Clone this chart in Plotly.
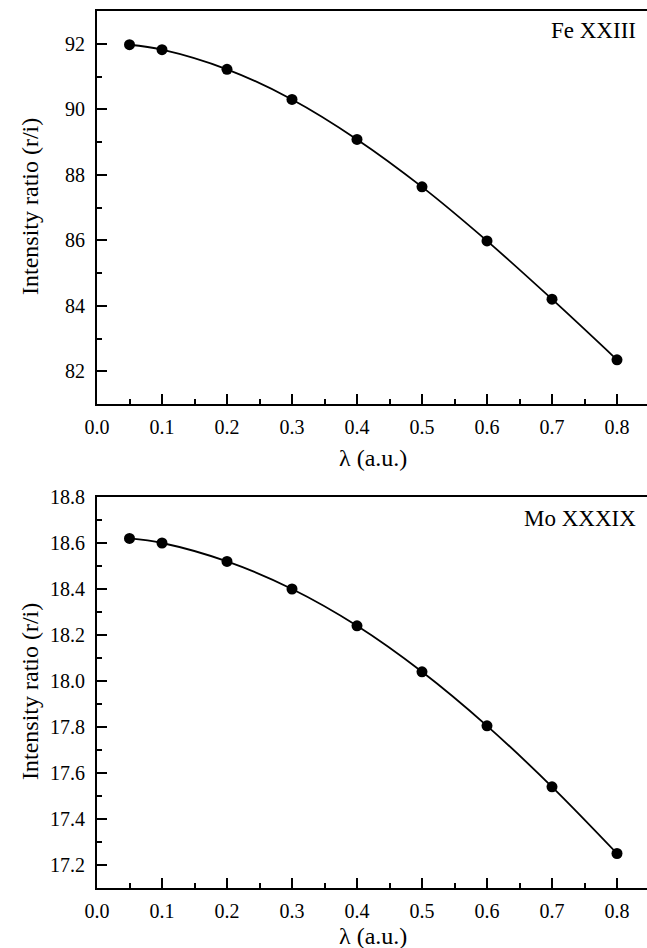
import plotly.graph_objects as go

lam = [0.05, 0.1, 0.2, 0.3, 0.4, 0.5, 0.6, 0.7, 0.8]
fe_ratio = [91.97, 91.82, 91.22, 90.30, 89.08, 87.63, 85.98, 84.20, 82.35]
mo_ratio = [18.62, 18.60, 18.52, 18.40, 18.24, 18.04, 17.805, 17.54, 17.25]

x_ticks = [0.0, 0.1, 0.2, 0.3, 0.4, 0.5, 0.6, 0.7, 0.8]
fe_ticks = [82, 84, 86, 88, 90, 92]
mo_ticks = [17.2, 17.4, 17.6, 17.8, 18.0, 18.2, 18.4, 18.6, 18.8]

W, H = 647, 948
FONT = "Liberation Serif, Times New Roman, serif"

fig = go.Figure()
line_style = dict(color="black", width=1.8, shape="spline")
marker_style = dict(color="black", size=11)
fig.add_trace(go.Scatter(x=lam, y=fe_ratio, mode="lines+markers", line=line_style,
                         marker=marker_style, xaxis="x", yaxis="y", showlegend=False))
fig.add_trace(go.Scatter(x=lam, y=mo_ratio, mode="lines+markers", line=line_style,
                         marker=marker_style, xaxis="x2", yaxis="y2", showlegend=False))

x0 = 97 / W
xdom = [x0, 1.0]
xrange = [0, (W - 97) / 650.0]

def yfrac(px):
    return (H - px) / H

TICKFONT = dict(family=FONT, size=20, color="black")
common_x = dict(
    domain=xdom, range=xrange, tickmode="array", tickvals=x_ticks,
    ticktext=[f"{v:.1f}" for v in x_ticks], ticks="inside", ticklen=10, tickwidth=2,
    tickcolor="black", showline=True, linecolor="black", linewidth=2, mirror=True,
    showgrid=False, zeroline=False, tickfont=TICKFONT,
    minor=dict(dtick=0.05, ticks="inside", ticklen=5, tickwidth=2, tickcolor="black", showgrid=False),
    automargin=False, ticklabelstandoff=4,
)
common_y = dict(
    ticks="inside", ticklen=10, tickwidth=2, tickcolor="black", showline=True,
    linecolor="black", linewidth=2, mirror=False, showgrid=False, zeroline=False,
    tickfont=TICKFONT, automargin=False, ticklabelstandoff=6,
)

fig.update_layout(
    width=W, height=H, margin=dict(l=0, r=0, t=0, b=0),
    paper_bgcolor="white", plot_bgcolor="white",
    xaxis=dict(**common_x, anchor="y"),
    xaxis2=dict(**common_x, anchor="y2"),
    yaxis=dict(**common_y, anchor="x", domain=[yfrac(404), yfrac(11)], range=[81, 93],
               tickmode="array", tickvals=fe_ticks, ticktext=[str(v) for v in fe_ticks],
               minor=dict(dtick=1, ticks="inside", ticklen=5, tickwidth=2, tickcolor="black", showgrid=False)),
    yaxis2=dict(**common_y, anchor="x2", domain=[yfrac(888), yfrac(497)], range=[17.1, 18.8],
                tickmode="array", tickvals=mo_ticks, ticktext=[f"{v:.1f}" for v in mo_ticks],
                minor=dict(dtick=0.1, ticks="inside", ticklen=5, tickwidth=2, tickcolor="black", showgrid=False)),
)

ann_font = dict(family=FONT, size=23, color="black")
title_font = dict(family=FONT, size=24, color="black")
annotations = [
    dict(text="Fe XXIII", x=638 / W, y=yfrac(31), xanchor="right", yanchor="middle", font=ann_font),
    dict(text="Mo XXXIX", x=638 / W, y=yfrac(518), xanchor="right", yanchor="middle", font=ann_font),
    dict(text="λ (a.u.)", x=373 / W, y=yfrac(458), xanchor="center", yanchor="middle", font=title_font),
    dict(text="λ (a.u.)", x=373 / W, y=yfrac(936), xanchor="center", yanchor="middle", font=title_font),
    dict(text="Intensity ratio (r/i)", x=30 / W, y=yfrac(207), xanchor="center", yanchor="middle", textangle=-90, font=title_font),
    dict(text="Intensity ratio (r/i)", x=30 / W, y=yfrac(692), xanchor="center", yanchor="middle", textangle=-90, font=title_font),
]
for a in annotations:
    fig.add_annotation(xref="paper", yref="paper", showarrow=False, **a)

fig.write_html("out.html")
